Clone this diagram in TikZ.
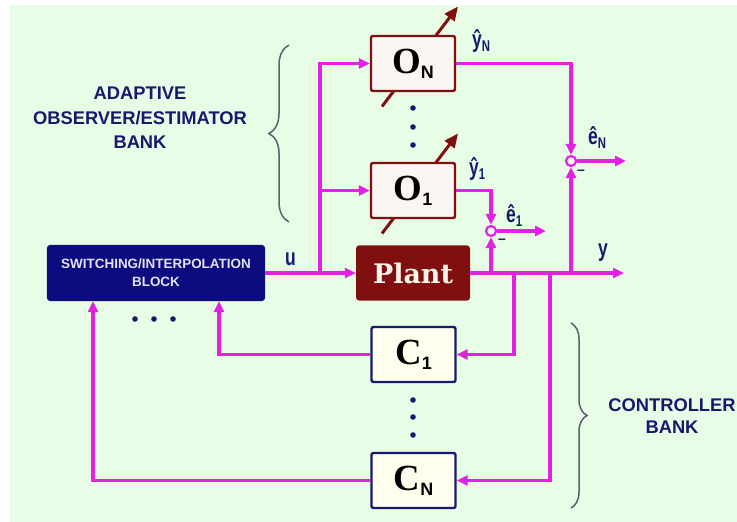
\documentclass[tikz,border=0pt]{standalone}
\usepackage{fontspec}
\setmainfont{Liberation Serif}
\setsansfont{Liberation Sans}
\newfontfamily\plantfont{DejaVu Serif}
\usepackage{graphicx}
\usepackage{tikz}
\usetikzlibrary{positioning,arrows.meta,calc,backgrounds,decorations.pathreplacing}
\usepackage{xcolor}
\definecolor{sigpink}{RGB}{228,32,228}
\definecolor{bgreen}{RGB}{232,253,229}
\definecolor{navyblk}{RGB}{24,24,110}
\definecolor{swblue}{RGB}{12,12,128}
\definecolor{darkred}{RGB}{128,16,16}
\definecolor{obsfill}{RGB}{252,246,242}
\definecolor{ctlfill}{RGB}{255,255,238}
\definecolor{bracegray}{RGB}{90,96,110}
\newcommand{\blocklabel}[2]{{\bfseries\fontsize{37}{37}\selectfont #1}{\sffamily\bfseries\fontsize{18}{18}\selectfont\raisebox{-5bp}{#2}}}
\newcommand{\tallsans}[1]{\scalebox{0.95}[1.3]{#1}}
\newcommand{\hatsig}[2]{\tallsans{\^{#1}\raisebox{-3bp}{\fontsize{12}{12}\selectfont #2}}}

\begin{document}
\begin{tikzpicture}[x=1bp,y=-1bp,>={Triangle[length=11bp,width=10bp]},
  sig/.style={draw=sigpink,line width=3.2bp,->},
  obsbox/.style={draw=darkred,fill=obsfill,line width=2.4bp,rounded corners=2bp,minimum width=84bp,minimum height=55bp,inner sep=0pt},
  ctlbox/.style={obsbox,draw=navyblk,fill=ctlfill},
  sumpt/.style={circle,draw=sigpink,fill=white,line width=2.2bp,minimum size=10bp,inner sep=0pt},
  tag/.style={text=navyblk,font=\sffamily\bfseries\fontsize{18.5}{18.5}\selectfont,inner sep=0pt,anchor=base west},
  bankname/.style={text=navyblk,align=center,font=\sffamily\bfseries\fontsize{18.4}{24.5}\selectfont},
  tune/.style={draw=darkred,line width=3bp,-{Triangle[length=14bp,width=12bp]}},
  bankbrace/.style={draw=bracegray,line width=1.5bp,decorate,decoration={brace,amplitude=#1}}]
\useasboundingbox (0,0) rectangle (737,522);
\node[fill=swblue,rounded corners=3bp,minimum width=218bp,minimum height=56bp,text=white!88!swblue,align=center,font=\sffamily\bfseries\fontsize{13.5}{18}\selectfont] (sw) at (156,273) {SWITCHING/INTERPOLATION\\BLOCK};
\node[fill=darkred,rounded corners=3bp,minimum width=114bp,minimum height=55bp,text=white!92!orange,font=\plantfont\bfseries\fontsize{27}{27}\selectfont] (plant) at (413,273) {Plant};
\node[obsbox] (oN) at (413,63.5) {\blocklabel{O}{N}};
\node[obsbox] (o1) at (413,190.5) {\blocklabel{O}{1}};
\node[ctlbox] (c1) at (413.5,354.5) {\blocklabel{C}{1}};
\node[ctlbox] (cN) at (413.5,480.5) {\blocklabel{C}{N}};
\node[sumpt] (sumN) at (571,161) {};
\node[sumpt] (sum1) at (491,231) {};
\node[tag] (ulab) at (285,266) {\tallsans{u}};
\node[tag] (ylab) at (598,257) {\tallsans{y}};
\node[tag] (yhatN) at (472,48) {\hatsig{y}{N}};
\node[tag] (yhat1) at (469,176) {\hatsig{y}{1}};
\node[tag] (ehat1) at (506,223) {\hatsig{e}{1}};
\node[tag] (ehatN) at (588,145) {\hatsig{e}{N}};
\node[tag,anchor=center,font=\sffamily\bfseries\fontsize{14}{14}\selectfont] (minN) at (581,172) {\textendash};
\node[tag,anchor=center,font=\sffamily\bfseries\fontsize{14}{14}\selectfont] (min1) at (502,241) {\textendash};
\node[bankname] (obsbank) at (140,118) {ADAPTIVE\\OBSERVER/ESTIMATOR\\BANK};
\node[bankname,font=\sffamily\bfseries\fontsize{18.4}{22}\selectfont] (ctlbank) at (672,416) {CONTROLLER\\BANK};
\foreach \yy in {108,127,145} \fill[navyblk] (413,\yy) circle (2.8bp);
\foreach \yy in {400,417,435} \fill[navyblk] (413,\yy) circle (2.8bp);
\foreach \xx in {135,154,173} \fill[navyblk] (\xx,319) circle (2.8bp);
\coordinate (ubr) at (320,273);
\coordinate (jc1) at (514,273);
\coordinate (jcN) at (550,273);
\coordinate (yend) at (624,273);
\coordinate (e1end) at (546,231);
\coordinate (eNend) at (626,161);
\draw[sig] (sw.east) -- (plant.west);
\draw[sig] (ubr) |- (oN.west);
\draw[sig] (ubr |- o1.west) -- (o1.west);
\draw[sig] (plant.east) -- (yend);
\draw[sig] (oN.east) -| (sumN.north);
\draw[sig] (o1.east) -| (sum1.north);
\draw[sig] (sum1 |- plant.east) -- (sum1.south);
\draw[sig] (sumN |- plant.east) -- (sumN.south);
\draw[sig] (sum1.east) -- (e1end);
\draw[sig] (sumN.east) -- (eNend);
\draw[sig] (jc1) |- (c1.east);
\draw[sig] (jcN) |- (cN.east);
\draw[sig] (c1.west) -| ([xshift=63bp]sw.south);
\draw[sig] (cN.west) -| ([xshift=-63bp]sw.south);
\draw[bankbrace=20bp] (289,222) -- (289,45);
\draw[bankbrace=16bp] (571,323) -- (571,508);
\begin{pgfonlayer}{background}
\fill[bgreen] (10,5) rectangle (737,522);
\foreach \ob in {oN,o1} \draw[tune] ($(\ob.center)+(-31,43)$) -- ($(\ob.center)+(45,-57)$);
\end{pgfonlayer}
\end{tikzpicture}
\end{document}
